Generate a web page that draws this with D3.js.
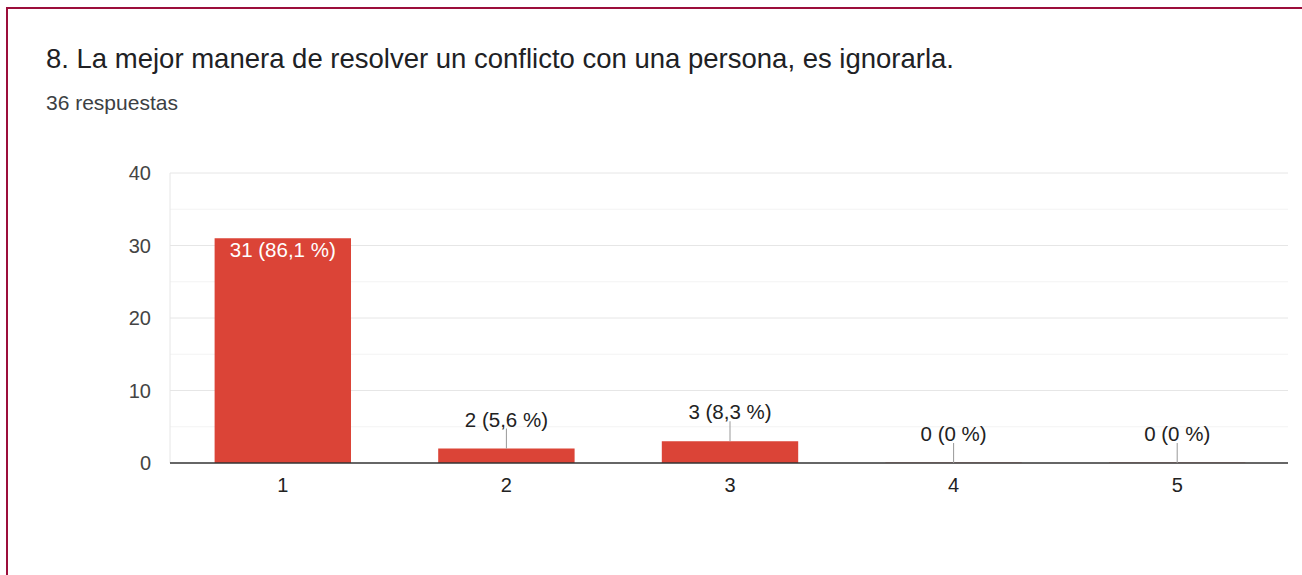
<!DOCTYPE html>
<meta charset="utf-8">
<style>
body { margin: 0; background: #fff; }
text { font-family: "Liberation Sans", Arial, sans-serif; }
</style>
<svg width="1302" height="575"></svg>
<script src="https://d3js.org/d3.v7.min.js"></script>
<script>
var categories = ["1", "2", "3", "4", "5"];
var counts = [31, 2, 3, 0, 0];
var labels = ["31 (86,1 %)", "2 (5,6 %)", "3 (8,3 %)", "0 (0 %)", "0 (0 %)"];
var yTicks = [0, 10, 20, 30, 40];
var minorTicks = [5, 15, 25, 35];

var svg = d3.select("svg");

// card border (left + top, maroon)
svg.append("path")
    .attr("d", "M7,575 V8 H1302")
    .attr("fill", "none")
    .attr("stroke", "#9c0e3b")
    .attr("stroke-width", 2);

svg.append("text")
    .attr("x", 46).attr("y", 68)
    .attr("font-size", 27.5)
    .attr("fill", "#202124")
    .text("8. La mejor manera de resolver un conflicto con una persona, es ignorarla.");

svg.append("text")
    .attr("x", 46).attr("y", 110)
    .attr("font-size", 21)
    .attr("fill", "#3c4043")
    .text("36 respuestas");

var margin = {left: 170, right: 1288, top: 173, bottom: 463};
var x = d3.scaleBand().domain(categories).range([margin.left, margin.right]).paddingInner(0.39).paddingOuter(0.195);
var y = d3.scaleLinear().domain([0, 40]).range([margin.bottom, margin.top]);

var g = svg.append("g");

// minor gridlines
g.selectAll(".minor").data(minorTicks).enter().append("line")
    .attr("x1", margin.left).attr("x2", margin.right)
    .attr("y1", d => y(d)).attr("y2", d => y(d))
    .attr("stroke", "#f3f3f3");

// major gridlines
g.selectAll(".major").data(yTicks.slice(1)).enter().append("line")
    .attr("x1", margin.left).attr("x2", margin.right)
    .attr("y1", d => y(d)).attr("y2", d => y(d))
    .attr("stroke", "#e6e6e6");

// left frame line
g.append("line")
    .attr("x1", margin.left).attr("x2", margin.left)
    .attr("y1", margin.top).attr("y2", margin.bottom)
    .attr("stroke", "#e6e6e6");

// y labels
g.selectAll(".ylab").data(yTicks).enter().append("text")
    .attr("x", 151).attr("y", d => y(d) + 7)
    .attr("text-anchor", "end")
    .attr("font-size", 20)
    .attr("fill", "#444")
    .text(d => d);

// bars
var data = categories.map((c, i) => ({cat: c, v: counts[i], label: labels[i]}));
g.selectAll(".bar").data(data).enter().append("rect")
    .attr("x", d => x(d.cat) + 1)
    .attr("width", x.bandwidth())
    .attr("y", d => d.v > 0 ? y(d.v) : y(0) - 1)
    .attr("height", d => d.v > 0 ? y(0) - y(d.v) : 1)
    .attr("fill", d => d.v > 0 ? "#db4437" : "#f4c7c3");

// baseline
g.append("line")
    .attr("x1", margin.left).attr("x2", margin.right)
    .attr("y1", y(0)).attr("y2", y(0))
    .attr("stroke", "#333").attr("stroke-width", 1.5);

// x labels
g.selectAll(".xlab").data(categories).enter().append("text")
    .attr("x", d => x(d) + x.bandwidth() / 2 + 1)
    .attr("y", y(0) + 29)
    .attr("text-anchor", "middle")
    .attr("font-size", 20)
    .attr("fill", "#222")
    .text(d => d);

// value labels
data.forEach(function(d) {
  var cx = x(d.cat) + x.bandwidth() / 2 + 1;
  var top = y(d.v);
  if (d.v > 10) {
    g.append("text").attr("x", cx).attr("y", top + 19)
        .attr("text-anchor", "middle").attr("font-size", 20.5)
        .attr("fill", "#fff").text(d.label);
  } else {
    g.append("line").attr("x1", cx).attr("x2", cx)
        .attr("y1", top - 20).attr("y2", top)
        .attr("stroke", "#999");
    g.append("text").attr("x", cx).attr("y", top - 22)
        .attr("text-anchor", "middle").attr("font-size", 20.5)
        .attr("fill", "#222").text(d.label);
  }
});
</script>
